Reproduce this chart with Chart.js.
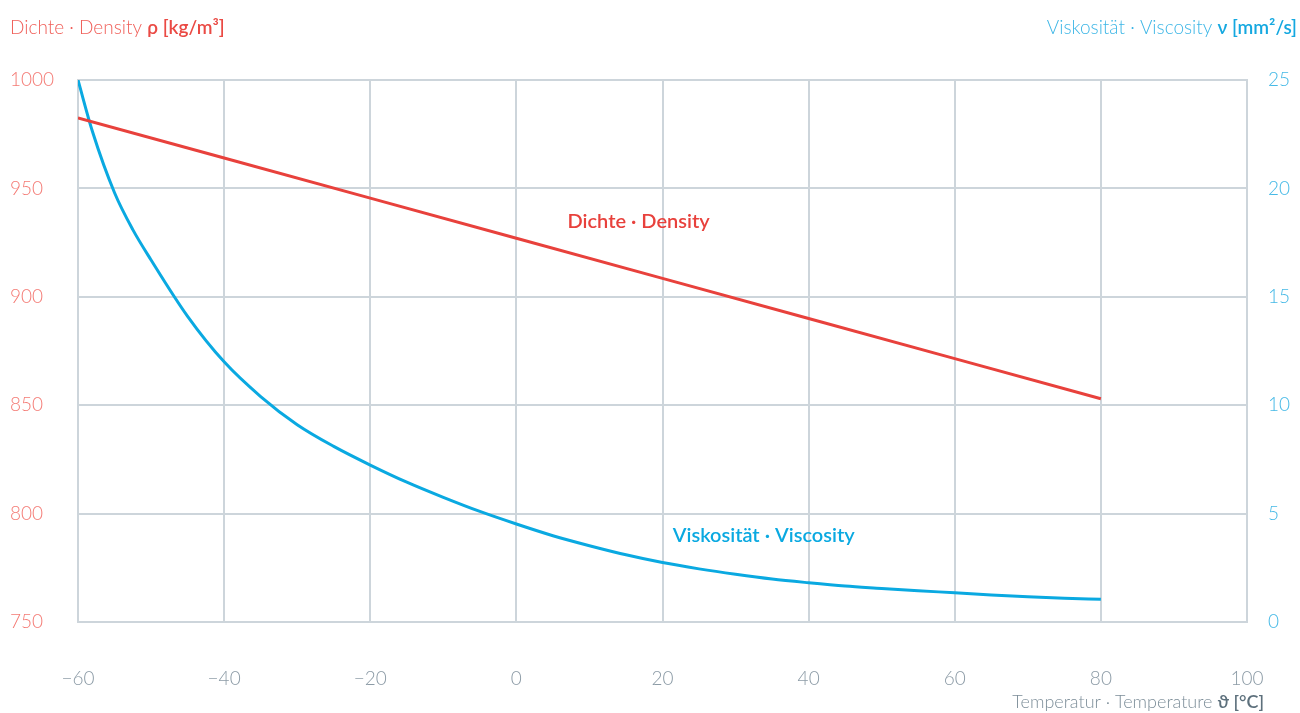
<!DOCTYPE html>
<html>
<head>
<meta charset="utf-8">
<script src="https://cdn.jsdelivr.net/npm/chart.js@4.4.1/dist/chart.umd.min.js"></script>
<style>
  body { margin: 0; background: #fff; }
  #wrap { width: 1300px; height: 713px; position: relative; }
</style>
</head>
<body>
<div id="wrap"><canvas id="graficViscositat"></canvas></div>
<script>
// dades llegides del gràfic
const tempDensitat = [-60, -40, -20, 0, 20, 40, 60, 80];
const densitat = [982.5, 964, 945.5, 927, 908.5, 890, 871.5, 853];

const tempViscositat = [-60, -58, -55, -52.5, -50, -45, -40, -35, -30, -25, -20, -15, -10, -5, 0, 5, 10, 15, 20, 25, 30, 35, 40, 45, 50, 55, 60, 65, 70, 75, 80];
const viscositat = [25.0, 22.6, 19.8, 18.1, 16.7, 14.1, 12.0, 10.4, 9.1, 8.1, 7.24, 6.45, 5.75, 5.1, 4.52, 3.98, 3.52, 3.1, 2.74, 2.45, 2.2, 1.98, 1.81, 1.66, 1.55, 1.44, 1.35, 1.25, 1.17, 1.1, 1.05];

const ticksTemp = [-60, -40, -20, 0, 20, 40, 60, 80, 100];
const ticksDensitat = [750, 800, 850, 900, 950, 1000];
const ticksViscositat = [0, 5, 10, 15, 20, 25];

const vermell = '#e8413c';
const blau = '#0aa9e1';
const gris = '#cdd5db';
const FONT = 'Lato, "Open Sans", sans-serif';

function parelles(xs, ys) {
    return xs.map((x, i) => ({ x: x, y: ys[i] }));
}

// text amb una part normal i una part en negreta
function textMixt(ctx, parts, x, y, align) {
    let total = 0;
    parts.forEach(p => { ctx.font = p.font; total += ctx.measureText(p.text).width; });
    let cx = align === 'right' ? x - total : x;
    ctx.textAlign = 'left';
    parts.forEach(p => {
        ctx.font = p.font;
        ctx.fillStyle = p.color;
        ctx.fillText(p.text, cx, y);
        cx += ctx.measureText(p.text).width;
    });
}

const textos = {
    id: 'textos',
    afterDraw(chart) {
        const ctx = chart.ctx;
        const sx = chart.scales.x;
        const sy = chart.scales.y;
        const sy2 = chart.scales.y2;
        ctx.save();
        ctx.textBaseline = 'alphabetic';

        textMixt(ctx, [
            { text: 'Dichte · Density ', font: '300 19px ' + FONT, color: '#f0605a' },
            { text: 'ρ [kg/m³]', font: '600 19px ' + FONT, color: '#ea4a44' }
        ], 10, 34, 'left');

        textMixt(ctx, [
            { text: 'Viskosität · Viscosity ', font: '300 19px ' + FONT, color: '#3db6e6' },
            { text: 'ν [mm²/s]', font: '600 19px ' + FONT, color: '#14a8e0' }
        ], 1297, 34, 'right');

        textMixt(ctx, [
            { text: 'Temperatur · Temperature ', font: '300 18px ' + FONT, color: '#7d8e99' },
            { text: 'ϑ [°C]', font: '600 18px ' + FONT, color: '#5d707c' }
        ], 1264, 708, 'right');

        ctx.textBaseline = 'middle';
        ctx.font = '600 20px ' + FONT;
        ctx.fillStyle = vermell;
        ctx.textAlign = 'left';
        ctx.fillText('Dichte · Density', sx.getPixelForValue(7), sy.getPixelForValue(934.5));
        ctx.fillStyle = blau;
        ctx.fillText('Viskosität · Viscosity', sx.getPixelForValue(21.4), sy2.getPixelForValue(4.0));
        ctx.restore();
    }
};

const ctx = document.getElementById('graficViscositat').getContext('2d');
new Chart(ctx, {
    type: 'line',
    data: {
        datasets: [
            {
                label: 'Dichte · Density',
                data: parelles(tempDensitat, densitat),
                borderColor: vermell,
                borderWidth: 3,
                pointRadius: 0,
                tension: 0,
                yAxisID: 'y'
            },
            {
                label: 'Viskosität · Viscosity',
                data: parelles(tempViscositat, viscositat),
                borderColor: blau,
                borderWidth: 3,
                pointRadius: 0,
                cubicInterpolationMode: 'monotone',
                yAxisID: 'y2'
            }
        ]
    },
    options: {
        responsive: true,
        maintainAspectRatio: false,
        animation: false,
        layout: { padding: { top: 80, left: 10, right: 0, bottom: 0 } },
        plugins: {
            legend: { display: false },
            tooltip: { enabled: false }
        },
        scales: {
            x: {
                type: 'linear',
                min: -60,
                max: 100,
                afterFit: s => { s.height = 91; },
                afterBuildTicks: s => { s.ticks = ticksTemp.map(v => ({ value: v })); },
                grid: { color: gris, lineWidth: 2, drawTicks: true, tickLength: 42, tickColor: 'rgba(0,0,0,0)' },
                border: { color: gris, width: 2 },
                ticks: {
                    padding: 3,
                    color: '#8c9ba6',
                    font: { family: FONT, size: 19, weight: '300' },
                    callback: v => String(v).replace('-', '−')
                }
            },
            y: {
                position: 'left',
                min: 750,
                max: 1000,
                afterFit: s => { s.width = 68; },
                afterBuildTicks: s => { s.ticks = ticksDensitat.map(v => ({ value: v })); },
                grid: { color: gris, lineWidth: 2, drawTicks: false },
                border: { color: gris, width: 2 },
                ticks: {
                    crossAlign: 'far',
                    color: '#f47a74',
                    font: { family: FONT, size: 19, weight: '300' },
                    callback: v => String(v)
                }
            },
            y2: {
                position: 'right',
                min: 0,
                max: 25,
                afterFit: s => { s.width = 53; },
                afterBuildTicks: s => { s.ticks = ticksViscositat.map(v => ({ value: v })); },
                grid: { drawOnChartArea: false, drawTicks: false },
                border: { color: gris, width: 2 },
                ticks: {
                    padding: 21,
                    color: '#45b9e6',
                    font: { family: FONT, size: 19, weight: '300' },
                    callback: v => String(v)
                }
            }
        }
    },
    plugins: [textos]
});
</script>
</body>
</html>
